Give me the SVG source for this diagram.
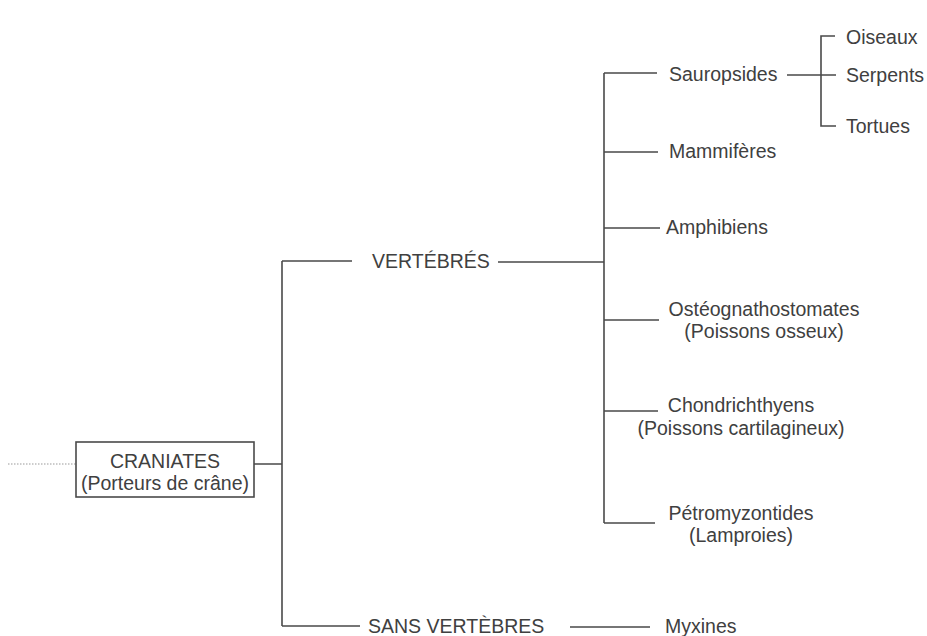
<svg xmlns="http://www.w3.org/2000/svg" width="927" height="636" viewBox="0 0 927 636">
<style>
text{font-family:"Liberation Sans",Arial,sans-serif;font-size:19.5px;fill:#404040}
.c{text-anchor:middle}
.l{stroke:#4a4a4a;stroke-width:1.6;fill:none}
.d{stroke:#9a9a9a;stroke-width:1.2;stroke-dasharray:1.5 1.5;fill:none}
</style>
<rect width="927" height="636" fill="#ffffff"/>
<g id="connectors">
<path class="d" d="M8 464H76"/>
<path class="l" d="M254 464H282M282 261V626M282 261H352M498 262H604M282 626H360M570 627H650"/>
<path class="l" d="M604 73V523M604 73H657M604 152H658M604 228H660M604 320H659M604 411H658M604 523H655"/>
<path class="l" d="M787 75H836M835 36H821V126H836"/>
</g>
<g id="craniates">
<rect x="76" y="442" width="178" height="55" fill="#fff" stroke="#4a4a4a" stroke-width="1.6"/>
<text class="c" x="165" y="468">CRANIATES</text>
<text class="c" x="165" y="490">(Porteurs de crâne)</text>
</g>
<g id="vertebres"><text x="372" y="268">VERTÉBRÉS</text></g>
<g id="sans-vertebres"><text x="368" y="633">SANS VERTÈBRES</text></g>
<g id="myxines"><text x="665" y="633">Myxines</text></g>
<g id="sauropsides"><text x="669" y="81">Sauropsides</text></g>
<g id="oiseaux"><text x="846" y="44">Oiseaux</text></g>
<g id="serpents"><text x="846" y="82">Serpents</text></g>
<g id="tortues"><text x="846" y="133">Tortues</text></g>
<g id="mammiferes"><text x="669" y="158">Mammifères</text></g>
<g id="amphibiens"><text x="666" y="234">Amphibiens</text></g>
<g id="osteognathostomates">
<text class="c" x="764" y="316">Ostéognathostomates</text>
<text class="c" x="764" y="338">(Poissons osseux)</text>
</g>
<g id="chondrichthyens">
<text class="c" x="741" y="412">Chondrichthyens</text>
<text class="c" x="741" y="435">(Poissons cartilagineux)</text>
</g>
<g id="petromyzontides">
<text class="c" x="741" y="520">Pétromyzontides</text>
<text class="c" x="741" y="542">(Lamproies)</text>
</g>
</svg>
